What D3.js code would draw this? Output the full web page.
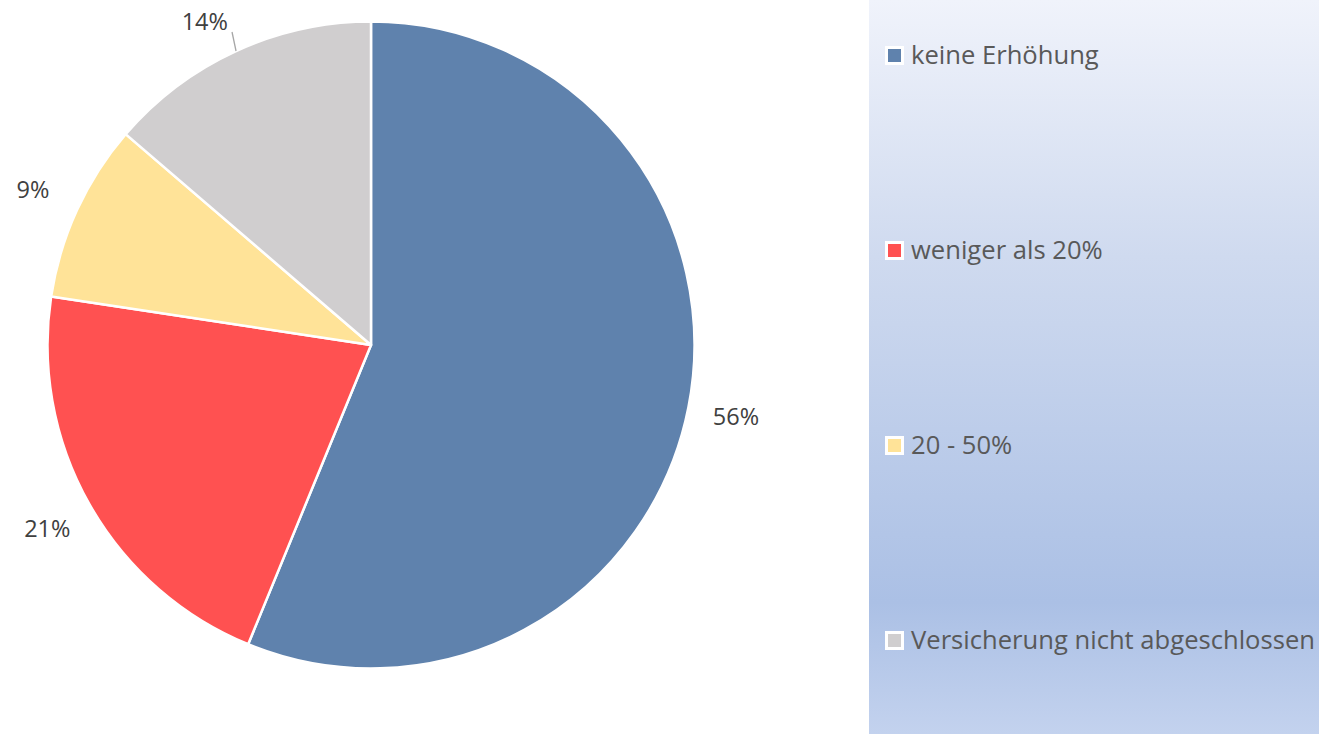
<!DOCTYPE html>
<html>
<head>
<meta charset="utf-8">
<script src="https://cdn.jsdelivr.net/npm/d3@7"></script>
<style>
  body { margin: 0; background: #fff; }
  svg { display: block; }
</style>
</head>
<body>
<svg id="chart" width="1319" height="734"></svg>
<script>
"use strict"

let categories = ["keine Erhöhung", "weniger als 20%", "20 - 50%", "Versicherung nicht abgeschlossen"]
let values = [56.2, 21.2, 8.9, 13.7]
let labels = ["56%", "21%", "9%", "14%"]
let colors = ["#5f82ad", "#ff5151", "#ffe398", "#d0cecf"]

let svg = d3.select("#chart")

// legend panel with its vertical gradient
let defs = svg.append("defs")
let grad = defs.append("linearGradient")
    .attr("id", "panel")
    .attr("x1", 0).attr("y1", 0).attr("x2", 0).attr("y2", 1)
grad.append("stop").attr("offset", "0%").attr("stop-color", "#f0f3fb")
grad.append("stop").attr("offset", "35%").attr("stop-color", "#cfdaef")
grad.append("stop").attr("offset", "82%").attr("stop-color", "#abc0e5")
grad.append("stop").attr("offset", "100%").attr("stop-color", "#c3d2ee")

svg.append("rect")
    .attr("x", 869).attr("y", 0)
    .attr("width", 450).attr("height", 734)
    .attr("fill", "url(#panel)")

let cx = 371, cy = 345, radius = 323.5

let pie = d3.pie().sort(null).value(function(d) { return d })
let arcs = pie(values)

let arc = d3.arc().innerRadius(0).outerRadius(radius)
let labelArc = d3.arc().innerRadius(372).outerRadius(372)
let edgeArc = d3.arc().innerRadius(radius).outerRadius(radius)

let g = svg.append("g").attr("transform", "translate(" + cx + "," + cy + ")")

g.selectAll("path.slice")
    .data(arcs)
    .enter().append("path")
    .attr("class", "slice")
    .attr("d", arc)
    .attr("fill", function(d, i) { return colors[i] })
    .attr("stroke", "#fff")
    .attr("stroke-width", 2.5)
    .attr("stroke-linejoin", "round")

// label positions, pushed back inside the top of the picture if needed
let minY = 22 - cy
let pos = arcs.map(function(d) {
    let c = labelArc.centroid(d)
    let moved = c[1] < minY
    return { x: moved ? c[0] - 11 : c[0], y: Math.max(c[1], minY), moved: moved }
})

// leader line for a moved label
g.selectAll("line.leader")
    .data(arcs.filter(function(d, i) { return pos[i].moved }))
    .enter().append("line")
    .attr("class", "leader")
    .attr("x1", function(d) { return edgeArc.centroid(d)[0] })
    .attr("y1", function(d) { return edgeArc.centroid(d)[1] })
    .attr("x2", function(d) { return edgeArc.centroid(d)[0] - 4 })
    .attr("y2", function(d) { return edgeArc.centroid(d)[1] - 19 })
    .attr("stroke", "#a6a6a6")
    .attr("stroke-width", 1.3)

g.selectAll("text.pct")
    .data(arcs)
    .enter().append("text")
    .attr("class", "pct")
    .attr("x", function(d, i) { return pos[i].x })
    .attr("y", function(d, i) { return pos[i].y })
    .attr("dy", "0.35em")
    .attr("text-anchor", "middle")
    .attr("font-family", "'Open Sans', sans-serif")
    .attr("font-size", 23.5)
    .attr("fill", "#404040")
    .text(function(d, i) { return labels[i] })

// legend
let ly = d3.scalePoint().domain(categories).range([55, 640])

let item = svg.selectAll("g.legend")
    .data(categories)
    .enter().append("g")
    .attr("class", "legend")
    .attr("transform", function(d) { return "translate(885," + ly(d) + ")" })

item.append("rect")
    .attr("x", 1.5).attr("y", -7.5)
    .attr("width", 16).attr("height", 16)
    .attr("fill", function(d, i) { return colors[i] })
    .attr("stroke", "#fff")
    .attr("stroke-width", 3)

item.append("text")
    .attr("x", 26)
    .attr("y", 0)
    .attr("dy", "0.35em")
    .attr("font-family", "'Open Sans', sans-serif")
    .attr("font-size", 25.6)
    .attr("fill", "#595959")
    .text(function(d) { return d })
</script>
</body>
</html>
